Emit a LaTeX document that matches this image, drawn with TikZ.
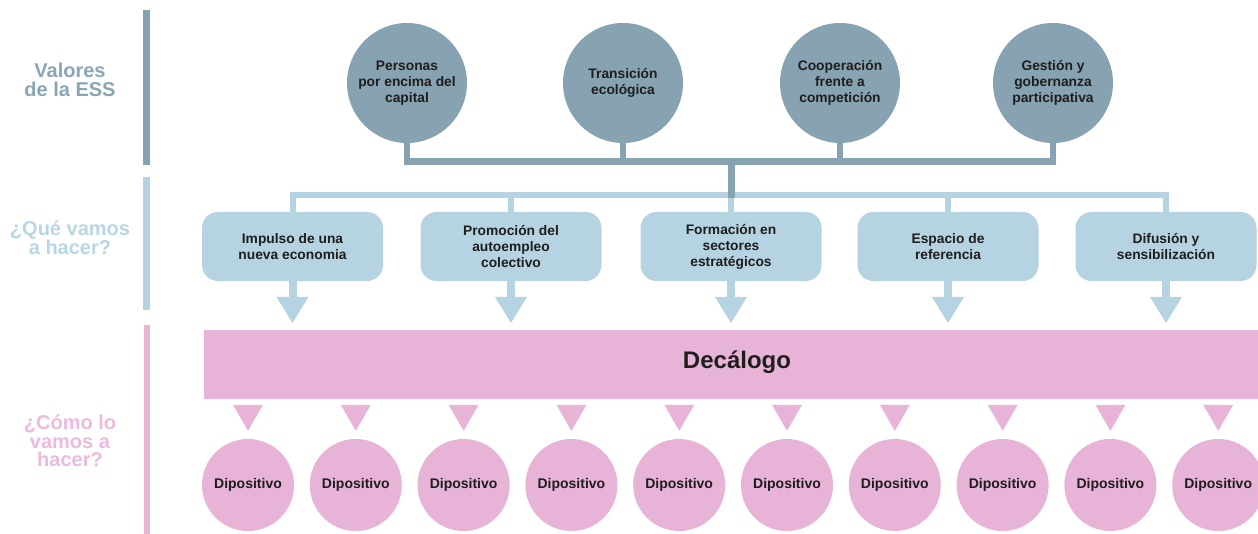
\documentclass[tikz,border=0pt]{standalone}
\usepackage{fontspec}
\setmainfont{Liberation Sans}
\usetikzlibrary{arrows.meta}
\definecolor{valgray}{HTML}{87A2B0}
\definecolor{quelight}{HTML}{B6D3E1}
\definecolor{comopink}{HTML}{E7B3D7}
\definecolor{valtext}{HTML}{8AA6B5}
\definecolor{quetext}{HTML}{B9D6E4}
\definecolor{comotext}{HTML}{EBBADD}
\definecolor{textdark}{HTML}{1E1E1E}
\begin{document}
\begin{tikzpicture}[x=1pt,y=-1pt,
	valor/.style={circle,fill=valgray,minimum size=120pt,inner sep=0pt,align=center,text=textdark,font=\bfseries\fontsize{13.8}{16}\selectfont},
	accion/.style={rectangle,rounded corners=16pt,fill=quelight,minimum width=181pt,minimum height=69pt,inner sep=0pt,align=center,text=textdark,font=\bfseries\fontsize{13.8}{16}\selectfont},
	dispo/.style={circle,fill=comopink,minimum size=92pt,inner sep=0pt,text=textdark,font=\bfseries\fontsize{14}{16}\selectfont},
	seccion/.style={align=center,font=\bfseries\fontsize{20}{18.5}\selectfont},
	flecha/.style={quelight,line width=8pt,-{Triangle[width=32pt,length=26pt,line width=0pt]}},
	punta/.style={comopink,line width=0.1pt,-{Triangle[width=30pt,length=26pt,line width=0pt]}}]
	\useasboundingbox (0,0) rectangle (1258,534);
	% columna de la izquierda
	\fill[valgray] (143,10) rectangle (150,165);
	\fill[quelight] (143,177) rectangle (150,310);
	\fill[comopink] (144,325) rectangle (150,534);
	\node[seccion,text=valtext] (lval) at (70,80) {Valores\\de la ESS};
	\node[seccion,text=quetext] (lque) at (70,238) {¿Qué vamos\\a hacer?};
	\node[seccion,text=comotext] (lcomo) at (70,441) {¿Cómo lo\\vamos a\\hacer?};
	% valores
	\node[valor] (v1) at (407,83) {Personas\\por encima del\\capital};
	\node[valor] (v2) at (623,83) {Transición\\ecológica};
	\node[valor] (v3) at (840,83) {Cooperación\\frente a\\competición};
	\node[valor] (v4) at (1053,83) {Gestión y\\gobernanza\\participativa};
	% acciones
	\node[accion] (a1) at (292.5,246.5) {Impulso de una\\nueva economia};
	\node[accion] (a2) at (511,246.5) {Promoción del\\autoempleo\\colectivo};
	\node[accion] (a3) at (731,246.5) {Formación en\\sectores\\estratégicos};
	\node[accion] (a4) at (948,246.5) {Espacio de\\referencia};
	\node[accion] (a5) at (1166,246.5) {Difusión y\\sensibilización};
	\coordinate (hubv) at (731,161.5);
	\coordinate (hubq) at (731,195);
	\draw[valgray,line width=6.5pt] (v1.south) -- (v1.south |- hubv) -| (v4.south);
	\draw[valgray,line width=6.5pt] (v2.south) -- (v2.south |- hubv);
	\draw[valgray,line width=6.5pt] (v3.south) -- (v3.south |- hubv);
	\draw[quelight,line width=6pt] (a1.north) -- (a1.north |- hubq) -| (a5.north);
	\draw[quelight,line width=6pt] (a2.north) -- (a2.north |- hubq);
	\draw[quelight,line width=6pt] (a3.north) -- (hubq);
	\draw[quelight,line width=6pt] (a4.north) -- (a4.north |- hubq);
	\draw[valgray,line width=7pt] (hubv) -- ([yshift=-3pt]hubq);
	% decalogo
	\node[rectangle,fill=comopink,minimum width=1060pt,minimum height=69pt,inner sep=0pt,anchor=north west] (deca) at (204,330) {};
	\node[text=textdark,font=\bfseries\fontsize{24}{24}\selectfont] (decat) at (737,362) {Decálogo};
	\foreach \i in {1,...,5}
		\draw[flecha,shorten >=7pt] (a\i.south) -- (a\i.south |- deca.north);
	% dispositivos
	\foreach \i in {0,...,9}{
		\node[dispo] (d\i) at (248+107.8*\i,485) {Dipositivo};
		\draw[punta,shorten <=6pt,shorten >=8pt] (d\i.north |- deca.south) -- (d\i.north);
	}
\end{tikzpicture}
\end{document}
